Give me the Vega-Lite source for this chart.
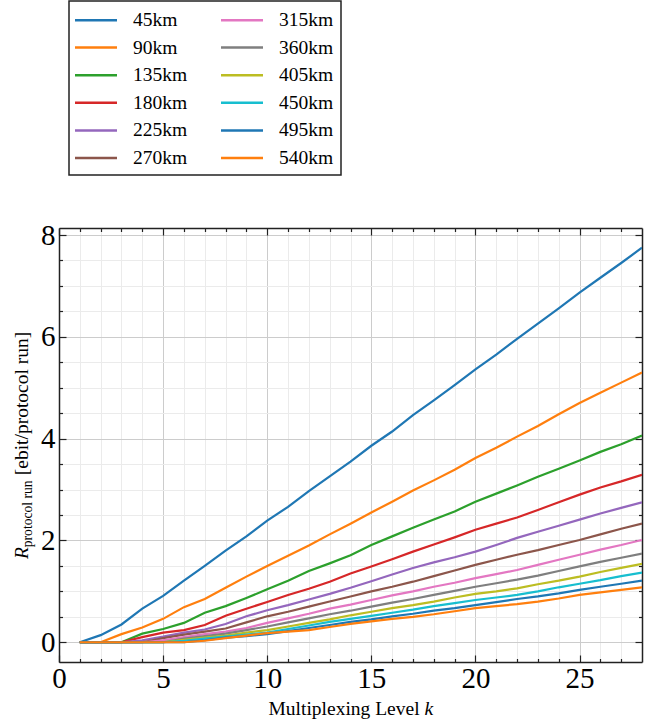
{
  "$schema": "https://vega.github.io/schema/vega-lite/v6.json",
  "width": 583,
  "height": 434,
  "autosize": {"type": "none"},
  "padding": {"left": 59, "top": 228, "right": 14, "bottom": 59},
  "background": "white",
  "config": {
    "view": {"stroke": null},
    "font": "Liberation Serif",
    "axis": {
      "labelFont": "Liberation Serif",
      "titleFont": "Liberation Serif",
      "labelColor": "black",
      "titleColor": "black",
      "titleFontWeight": "normal",
      "tickColor": "#222222",
      "domainColor": "#222222",
      "domainWidth": 1.5,
      "tickWidth": 1.2
    },
    "legend": {
      "labelFont": "Liberation Serif",
      "labelFontSize": 19.5,
      "labelColor": "black",
      "strokeWidth": 1.5
    }
  },
  "data": {
    "values": [
      {"k":1,"d":"45km","r":0},{"k":2,"d":"45km","r":0.14},{"k":3,"d":"45km","r":0.35},{"k":4,"d":"45km","r":0.66},{"k":5,"d":"45km","r":0.91},{"k":6,"d":"45km","r":1.21},{"k":7,"d":"45km","r":1.50},{"k":8,"d":"45km","r":1.80},{"k":9,"d":"45km","r":2.08},{"k":10,"d":"45km","r":2.39},{"k":11,"d":"45km","r":2.66},{"k":12,"d":"45km","r":2.97},{"k":13,"d":"45km","r":3.26},{"k":14,"d":"45km","r":3.55},{"k":15,"d":"45km","r":3.86},{"k":16,"d":"45km","r":4.14},{"k":17,"d":"45km","r":4.46},{"k":18,"d":"45km","r":4.75},{"k":19,"d":"45km","r":5.05},{"k":20,"d":"45km","r":5.36},{"k":21,"d":"45km","r":5.65},{"k":22,"d":"45km","r":5.96},{"k":23,"d":"45km","r":6.26},{"k":24,"d":"45km","r":6.56},{"k":25,"d":"45km","r":6.87},{"k":26,"d":"45km","r":7.16},{"k":27,"d":"45km","r":7.45},{"k":28,"d":"45km","r":7.75},
      {"k":1,"d":"90km","r":0},{"k":2,"d":"90km","r":0},{"k":3,"d":"90km","r":0.16},{"k":4,"d":"90km","r":0.29},{"k":5,"d":"90km","r":0.46},{"k":6,"d":"90km","r":0.69},{"k":7,"d":"90km","r":0.85},{"k":8,"d":"90km","r":1.07},{"k":9,"d":"90km","r":1.29},{"k":10,"d":"90km","r":1.50},{"k":11,"d":"90km","r":1.70},{"k":12,"d":"90km","r":1.90},{"k":13,"d":"90km","r":2.12},{"k":14,"d":"90km","r":2.33},{"k":15,"d":"90km","r":2.55},{"k":16,"d":"90km","r":2.76},{"k":17,"d":"90km","r":2.98},{"k":18,"d":"90km","r":3.18},{"k":19,"d":"90km","r":3.39},{"k":20,"d":"90km","r":3.62},{"k":21,"d":"90km","r":3.82},{"k":22,"d":"90km","r":4.04},{"k":23,"d":"90km","r":4.25},{"k":24,"d":"90km","r":4.48},{"k":25,"d":"90km","r":4.70},{"k":26,"d":"90km","r":4.90},{"k":27,"d":"90km","r":5.10},{"k":28,"d":"90km","r":5.30},
      {"k":1,"d":"135km","r":0},{"k":2,"d":"135km","r":0},{"k":3,"d":"135km","r":0},{"k":4,"d":"135km","r":0.17},{"k":5,"d":"135km","r":0.26},{"k":6,"d":"135km","r":0.38},{"k":7,"d":"135km","r":0.58},{"k":8,"d":"135km","r":0.71},{"k":9,"d":"135km","r":0.87},{"k":10,"d":"135km","r":1.04},{"k":11,"d":"135km","r":1.21},{"k":12,"d":"135km","r":1.40},{"k":13,"d":"135km","r":1.55},{"k":14,"d":"135km","r":1.71},{"k":15,"d":"135km","r":1.91},{"k":16,"d":"135km","r":2.08},{"k":17,"d":"135km","r":2.25},{"k":18,"d":"135km","r":2.41},{"k":19,"d":"135km","r":2.57},{"k":20,"d":"135km","r":2.76},{"k":21,"d":"135km","r":2.92},{"k":22,"d":"135km","r":3.08},{"k":23,"d":"135km","r":3.25},{"k":24,"d":"135km","r":3.41},{"k":25,"d":"135km","r":3.57},{"k":26,"d":"135km","r":3.74},{"k":27,"d":"135km","r":3.89},{"k":28,"d":"135km","r":4.06},
      {"k":1,"d":"180km","r":0},{"k":2,"d":"180km","r":0},{"k":3,"d":"180km","r":0},{"k":4,"d":"180km","r":0.10},{"k":5,"d":"180km","r":0.19},{"k":6,"d":"180km","r":0.24},{"k":7,"d":"180km","r":0.34},{"k":8,"d":"180km","r":0.52},{"k":9,"d":"180km","r":0.66},{"k":10,"d":"180km","r":0.79},{"k":11,"d":"180km","r":0.93},{"k":12,"d":"180km","r":1.05},{"k":13,"d":"180km","r":1.19},{"k":14,"d":"180km","r":1.35},{"k":15,"d":"180km","r":1.49},{"k":16,"d":"180km","r":1.63},{"k":17,"d":"180km","r":1.78},{"k":18,"d":"180km","r":1.92},{"k":19,"d":"180km","r":2.06},{"k":20,"d":"180km","r":2.21},{"k":21,"d":"180km","r":2.33},{"k":22,"d":"180km","r":2.45},{"k":23,"d":"180km","r":2.60},{"k":24,"d":"180km","r":2.75},{"k":25,"d":"180km","r":2.90},{"k":26,"d":"180km","r":3.04},{"k":27,"d":"180km","r":3.16},{"k":28,"d":"180km","r":3.29},
      {"k":1,"d":"225km","r":0},{"k":2,"d":"225km","r":0},{"k":3,"d":"225km","r":0},{"k":4,"d":"225km","r":0.04},{"k":5,"d":"225km","r":0.11},{"k":6,"d":"225km","r":0.19},{"k":7,"d":"225km","r":0.25},{"k":8,"d":"225km","r":0.36},{"k":9,"d":"225km","r":0.51},{"k":10,"d":"225km","r":0.63},{"k":11,"d":"225km","r":0.73},{"k":12,"d":"225km","r":0.84},{"k":13,"d":"225km","r":0.95},{"k":14,"d":"225km","r":1.07},{"k":15,"d":"225km","r":1.20},{"k":16,"d":"225km","r":1.33},{"k":17,"d":"225km","r":1.46},{"k":18,"d":"225km","r":1.57},{"k":19,"d":"225km","r":1.67},{"k":20,"d":"225km","r":1.78},{"k":21,"d":"225km","r":1.91},{"k":22,"d":"225km","r":2.05},{"k":23,"d":"225km","r":2.17},{"k":24,"d":"225km","r":2.29},{"k":25,"d":"225km","r":2.41},{"k":26,"d":"225km","r":2.53},{"k":27,"d":"225km","r":2.64},{"k":28,"d":"225km","r":2.75},
      {"k":1,"d":"270km","r":0},{"k":2,"d":"270km","r":0},{"k":3,"d":"270km","r":0},{"k":4,"d":"270km","r":0},{"k":5,"d":"270km","r":0.08},{"k":6,"d":"270km","r":0.15},{"k":7,"d":"270km","r":0.21},{"k":8,"d":"270km","r":0.27},{"k":9,"d":"270km","r":0.39},{"k":10,"d":"270km","r":0.51},{"k":11,"d":"270km","r":0.60},{"k":12,"d":"270km","r":0.70},{"k":13,"d":"270km","r":0.80},{"k":14,"d":"270km","r":0.90},{"k":15,"d":"270km","r":1.00},{"k":16,"d":"270km","r":1.09},{"k":17,"d":"270km","r":1.19},{"k":18,"d":"270km","r":1.30},{"k":19,"d":"270km","r":1.41},{"k":20,"d":"270km","r":1.52},{"k":21,"d":"270km","r":1.62},{"k":22,"d":"270km","r":1.72},{"k":23,"d":"270km","r":1.81},{"k":24,"d":"270km","r":1.91},{"k":25,"d":"270km","r":2.01},{"k":26,"d":"270km","r":2.12},{"k":27,"d":"270km","r":2.23},{"k":28,"d":"270km","r":2.33},
      {"k":1,"d":"315km","r":0},{"k":2,"d":"315km","r":0},{"k":3,"d":"315km","r":0},{"k":4,"d":"315km","r":0},{"k":5,"d":"315km","r":0.04},{"k":6,"d":"315km","r":0.10},{"k":7,"d":"315km","r":0.16},{"k":8,"d":"315km","r":0.21},{"k":9,"d":"315km","r":0.28},{"k":10,"d":"315km","r":0.38},{"k":11,"d":"315km","r":0.47},{"k":12,"d":"315km","r":0.56},{"k":13,"d":"315km","r":0.66},{"k":14,"d":"315km","r":0.74},{"k":15,"d":"315km","r":0.83},{"k":16,"d":"315km","r":0.92},{"k":17,"d":"315km","r":1.00},{"k":18,"d":"315km","r":1.09},{"k":19,"d":"315km","r":1.17},{"k":20,"d":"315km","r":1.26},{"k":21,"d":"315km","r":1.34},{"k":22,"d":"315km","r":1.42},{"k":23,"d":"315km","r":1.52},{"k":24,"d":"315km","r":1.62},{"k":25,"d":"315km","r":1.72},{"k":26,"d":"315km","r":1.82},{"k":27,"d":"315km","r":1.91},{"k":28,"d":"315km","r":2.01},
      {"k":1,"d":"360km","r":0},{"k":2,"d":"360km","r":0},{"k":3,"d":"360km","r":0},{"k":4,"d":"360km","r":0},{"k":5,"d":"360km","r":0},{"k":6,"d":"360km","r":0.07},{"k":7,"d":"360km","r":0.12},{"k":8,"d":"360km","r":0.17},{"k":9,"d":"360km","r":0.24},{"k":10,"d":"360km","r":0.31},{"k":11,"d":"360km","r":0.39},{"k":12,"d":"360km","r":0.47},{"k":13,"d":"360km","r":0.55},{"k":14,"d":"360km","r":0.62},{"k":15,"d":"360km","r":0.70},{"k":16,"d":"360km","r":0.78},{"k":17,"d":"360km","r":0.85},{"k":18,"d":"360km","r":0.93},{"k":19,"d":"360km","r":1.01},{"k":20,"d":"360km","r":1.09},{"k":21,"d":"360km","r":1.16},{"k":22,"d":"360km","r":1.23},{"k":23,"d":"360km","r":1.31},{"k":24,"d":"360km","r":1.40},{"k":25,"d":"360km","r":1.49},{"k":26,"d":"360km","r":1.58},{"k":27,"d":"360km","r":1.66},{"k":28,"d":"360km","r":1.74},
      {"k":1,"d":"405km","r":0},{"k":2,"d":"405km","r":0},{"k":3,"d":"405km","r":0},{"k":4,"d":"405km","r":0},{"k":5,"d":"405km","r":0},{"k":6,"d":"405km","r":0.05},{"k":7,"d":"405km","r":0.09},{"k":8,"d":"405km","r":0.13},{"k":9,"d":"405km","r":0.19},{"k":10,"d":"405km","r":0.24},{"k":11,"d":"405km","r":0.31},{"k":12,"d":"405km","r":0.38},{"k":13,"d":"405km","r":0.45},{"k":14,"d":"405km","r":0.53},{"k":15,"d":"405km","r":0.60},{"k":16,"d":"405km","r":0.67},{"k":17,"d":"405km","r":0.73},{"k":18,"d":"405km","r":0.80},{"k":19,"d":"405km","r":0.88},{"k":20,"d":"405km","r":0.95},{"k":21,"d":"405km","r":1.00},{"k":22,"d":"405km","r":1.06},{"k":23,"d":"405km","r":1.14},{"k":24,"d":"405km","r":1.21},{"k":25,"d":"405km","r":1.29},{"k":26,"d":"405km","r":1.38},{"k":27,"d":"405km","r":1.46},{"k":28,"d":"405km","r":1.54},
      {"k":1,"d":"450km","r":0},{"k":2,"d":"450km","r":0},{"k":3,"d":"450km","r":0},{"k":4,"d":"450km","r":0},{"k":5,"d":"450km","r":0},{"k":6,"d":"450km","r":0.03},{"k":7,"d":"450km","r":0.07},{"k":8,"d":"450km","r":0.11},{"k":9,"d":"450km","r":0.15},{"k":10,"d":"450km","r":0.19},{"k":11,"d":"450km","r":0.26},{"k":12,"d":"450km","r":0.33},{"k":13,"d":"450km","r":0.40},{"k":14,"d":"450km","r":0.46},{"k":15,"d":"450km","r":0.52},{"k":16,"d":"450km","r":0.58},{"k":17,"d":"450km","r":0.64},{"k":18,"d":"450km","r":0.71},{"k":19,"d":"450km","r":0.77},{"k":20,"d":"450km","r":0.83},{"k":21,"d":"450km","r":0.88},{"k":22,"d":"450km","r":0.93},{"k":23,"d":"450km","r":1.00},{"k":24,"d":"450km","r":1.08},{"k":25,"d":"450km","r":1.15},{"k":26,"d":"450km","r":1.22},{"k":27,"d":"450km","r":1.30},{"k":28,"d":"450km","r":1.37},
      {"k":1,"d":"495km","r":0},{"k":2,"d":"495km","r":0},{"k":3,"d":"495km","r":0},{"k":4,"d":"495km","r":0},{"k":5,"d":"495km","r":0},{"k":6,"d":"495km","r":0},{"k":7,"d":"495km","r":0.04},{"k":8,"d":"495km","r":0.09},{"k":9,"d":"495km","r":0.12},{"k":10,"d":"495km","r":0.16},{"k":11,"d":"495km","r":0.22},{"k":12,"d":"495km","r":0.28},{"k":13,"d":"495km","r":0.34},{"k":14,"d":"495km","r":0.40},{"k":15,"d":"495km","r":0.45},{"k":16,"d":"495km","r":0.51},{"k":17,"d":"495km","r":0.56},{"k":18,"d":"495km","r":0.62},{"k":19,"d":"495km","r":0.67},{"k":20,"d":"495km","r":0.73},{"k":21,"d":"495km","r":0.79},{"k":22,"d":"495km","r":0.85},{"k":23,"d":"495km","r":0.90},{"k":24,"d":"495km","r":0.96},{"k":25,"d":"495km","r":1.03},{"k":26,"d":"495km","r":1.09},{"k":27,"d":"495km","r":1.15},{"k":28,"d":"495km","r":1.21},
      {"k":1,"d":"540km","r":0},{"k":2,"d":"540km","r":0},{"k":3,"d":"540km","r":0},{"k":4,"d":"540km","r":0},{"k":5,"d":"540km","r":0},{"k":6,"d":"540km","r":0},{"k":7,"d":"540km","r":0.03},{"k":8,"d":"540km","r":0.08},{"k":9,"d":"540km","r":0.13},{"k":10,"d":"540km","r":0.18},{"k":11,"d":"540km","r":0.21},{"k":12,"d":"540km","r":0.24},{"k":13,"d":"540km","r":0.30},{"k":14,"d":"540km","r":0.36},{"k":15,"d":"540km","r":0.41},{"k":16,"d":"540km","r":0.46},{"k":17,"d":"540km","r":0.50},{"k":18,"d":"540km","r":0.55},{"k":19,"d":"540km","r":0.61},{"k":20,"d":"540km","r":0.67},{"k":21,"d":"540km","r":0.71},{"k":22,"d":"540km","r":0.75},{"k":23,"d":"540km","r":0.80},{"k":24,"d":"540km","r":0.86},{"k":25,"d":"540km","r":0.93},{"k":26,"d":"540km","r":0.98},{"k":27,"d":"540km","r":1.03},{"k":28,"d":"540km","r":1.08}
    ]
  },
  "resolve": {"axis": {"x": "independent", "y": "independent"}},
  "layer": [
    {
      "mark": {"type": "line", "strokeWidth": 2.2, "clip": true},
      "encoding": {
        "x": {
          "field": "k", "type": "quantitative",
          "scale": {"domain": [0, 28], "nice": false, "zero": false},
          "axis": {
            "orient": "bottom", "values": [0, 5, 10, 15, 20, 25],
            "labelFont": "Liberation Serif", "labelFontSize": 29, "labelPadding": 9, "tickSize": -7, "labelFlush": false,
            "grid": true, "gridColor": "#cccccc", "gridWidth": 1,
            "title": "Multiplexing Level ", "titleFont": "Liberation Serif", "titleFontSize": 19.5,
            "titleAlign": "left", "titleBaseline": "alphabetic", "titleX": 209, "titleY": 52
          }
        },
        "y": {
          "field": "r", "type": "quantitative",
          "scale": {"domain": [-0.3875, 8.1375], "nice": false, "zero": false},
          "axis": {
            "orient": "left", "values": [0, 2, 4, 6, 8],
            "labelFont": "Liberation Serif", "labelFontSize": 29, "labelPadding": 11, "tickSize": -7, "labelFlush": false,
            "grid": true, "gridColor": "#cccccc", "gridWidth": 1,
            "title": "[ebit/protocol run]", "titleFont": "Liberation Serif", "titleFontSize": 19.5, "titleAngle": -90,
            "titleAlign": "left", "titleBaseline": "alphabetic", "titleX": -31.5, "titleY": 246.7
          }
        },
        "color": {
          "field": "d", "type": "nominal",
          "scale": {
            "domain": ["45km", "90km", "135km", "180km", "225km", "270km", "315km", "360km", "405km", "450km", "495km", "540km"],
            "range": ["#1f77b4", "#ff7f0e", "#2ca02c", "#d62728", "#9467bd", "#8c564b", "#e377c2", "#7f7f7f", "#bcbd22", "#17becf", "#1f77b4", "#ff7f0e"]
          },
          "legend": {
            "title": null, "orient": "none", "legendX": 10, "legendY": -227, "columns": 2,
            "symbolType": "M-2,0H2", "symbolSize": 441, "symbolStrokeWidth": 2.5, "symbolOffset": 8,
            "labelFont": "Liberation Serif", "labelFontSize": 19.5, "labelColor": "black", "labelOffset": 25,
            "rowPadding": 5.6, "columnPadding": 28, "padding": 7,
            "strokeColor": "#222222", "fillColor": "white", "cornerRadius": 0
          }
        }
      }
    },
    {
      "mark": {"type": "line", "opacity": 0},
      "encoding": {
        "x": {
          "field": "k", "type": "quantitative",
          "axis": {
            "orient": "bottom", "values": [1, 2, 3, 4, 6, 7, 8, 9, 11, 12, 13, 14, 16, 17, 18, 19, 21, 22, 23, 24, 26, 27],
            "labels": false, "domain": false, "tickSize": -3.5,
            "grid": true, "gridColor": "#ebebeb", "gridWidth": 1,
            "title": "k", "titleFont": "Liberation Serif", "titleFontSize": 19.5, "titleFontStyle": "italic",
            "titleAlign": "left", "titleBaseline": "alphabetic", "titleX": 365, "titleY": 52
          }
        },
        "y": {
          "field": "r", "type": "quantitative",
          "axis": {
            "orient": "left", "values": [0.5, 1, 1.5, 2.5, 3, 3.5, 4.5, 5, 5.5, 6.5, 7, 7.5],
            "labels": false, "domain": false, "tickSize": -3.5,
            "grid": true, "gridColor": "#ebebeb", "gridWidth": 1,
            "title": "R", "titleFont": "Liberation Serif", "titleFontSize": 19.5, "titleFontStyle": "italic", "titleAngle": -90,
            "titleAlign": "left", "titleBaseline": "alphabetic", "titleX": -31.5, "titleY": 330.6
          }
        },
        "detail": {"field": "d"}
      }
    },
    {
      "mark": {"type": "line", "opacity": 0},
      "encoding": {
        "x": {
          "field": "k", "type": "quantitative",
          "axis": {"orient": "top", "values": [0, 5, 10, 15, 20, 25], "labels": false, "grid": false, "tickSize": -7, "title": null}
        },
        "y": {
          "field": "r", "type": "quantitative",
          "axis": {"orient": "right", "values": [0, 2, 4, 6, 8], "labels": false, "grid": false, "tickSize": -7, "title": null}
        },
        "detail": {"field": "d"}
      }
    },
    {
      "mark": {"type": "line", "opacity": 0},
      "encoding": {
        "x": {
          "field": "k", "type": "quantitative",
          "axis": {"orient": "top", "values": [1, 2, 3, 4, 6, 7, 8, 9, 11, 12, 13, 14, 16, 17, 18, 19, 21, 22, 23, 24, 26, 27], "labels": false, "domain": false, "grid": false, "tickSize": -3.5, "title": null}
        },
        "y": {
          "field": "r", "type": "quantitative",
          "axis": {"orient": "right", "values": [0.5, 1, 1.5, 2.5, 3, 3.5, 4.5, 5, 5.5, 6.5, 7, 7.5], "labels": false, "domain": false, "grid": false, "tickSize": -3.5, "title": null}
        },
        "detail": {"field": "d"}
      }
    },
    {
      "mark": {"type": "line", "opacity": 0},
      "encoding": {
        "x": {"field": "k", "type": "quantitative", "axis": null},
        "y": {
          "field": "r", "type": "quantitative",
          "axis": {
            "orient": "left", "labels": false, "domain": false, "ticks": false, "grid": false,
            "title": "protocol run", "titleFont": "Liberation Serif", "titleFontSize": 13.6, "titleAngle": -90,
            "titleAlign": "left", "titleBaseline": "alphabetic", "titleX": -28, "titleY": 318.7
          }
        },
        "detail": {"field": "d"}
      }
    }
  ]
}
